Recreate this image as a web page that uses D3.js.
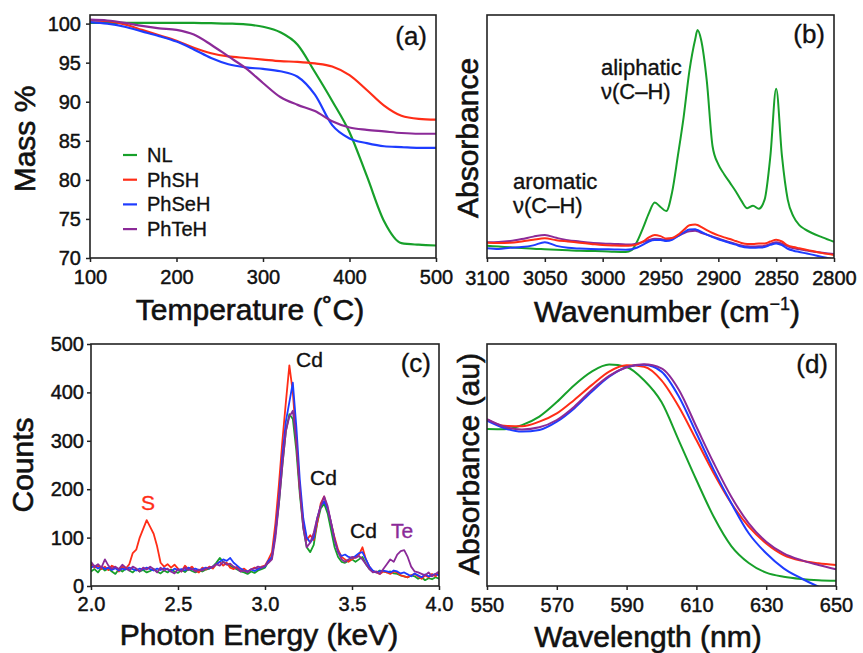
<!DOCTYPE html>
<html>
<head>
<meta charset="utf-8">
<script src="https://cdn.jsdelivr.net/npm/d3@7"></script>
<style>
body { margin: 0; background: #fff; }
svg text { font-family: "Liberation Sans", Arial, sans-serif; }
</style>
</head>
<body>
<script>
// sample names + colours
var samples = ["NL", "PhSH", "PhSeH", "PhTeH"];
var colours = ["#17a02a", "#ff2d17", "#1e3cff", "#8b2a98"];

// (a) TGA, mass % vs temperature
var tgaTemp = [100,120,140,160,180,200,220,240,260,280,300,320,340,360,380,400,420,440,460,480,500];
var tgaNL    = [100.1,100.1,100.1,100.1,100.1,100.1,100.1,100.05,100.0,99.9,99.6,98.9,97.3,93.8,90.1,86.1,80.5,74.7,71.9,71.7,71.6];
var tgaPhSH  = [100.4,100.3,99.9,99.2,98.5,97.8,96.9,96.2,95.8,95.6,95.4,95.2,95.1,94.9,94.5,93.4,91.5,89.5,88.2,87.8,87.7];
var tgaPhSeH = [100.2,100.0,99.6,99.0,98.4,97.7,96.7,95.6,94.8,94.4,94.2,93.9,93.2,90.9,87.0,85.3,84.7,84.3,84.2,84.1,84.1];
var tgaPhTeH = [100.5,100.4,100.1,99.7,99.4,99.2,98.6,97.3,95.8,94.3,92.4,90.6,89.6,88.8,87.5,86.7,86.4,86.2,86.0,85.9,85.9];

// (b) IR absorbance (arbitrary units, 0-100 of panel height)
var irWave = [3100,3090,3080,3070,3060,3050,3040,3030,3020,3010,3000,2990,2980,
  2975,2970,2965,2960,2955,2950,2945,2940,2935,2930,2925,2920,2918,
  2915,2910,2905,2900,2895,2890,2885,2880,2875,2870,2865,2860,2855,2850,2845,2840,2835,2830,2825,2820,
  2810,2800];
var irNL = [5.0,4.7,4.4,4.1,3.8,3.6,3.4,3.2,3.0,2.9,2.8,2.6,2.5,
  3.2,7.0,12.5,18.5,22.8,21.0,19.3,27.0,42.0,58.0,77.0,90.0,93.8,
  90.0,73.0,46.0,38.5,34.5,31.0,27.5,23.5,20.5,21.5,20.3,24.0,42.0,69.7,42.0,24.0,17.0,13.5,11.8,10.5,
  8.5,6.7];
var irPhSH = [6.3,6.2,6.3,6.8,7.5,8.1,7.3,6.8,6.3,5.8,5.3,5.1,5.0,
  5.1,5.6,6.8,8.5,9.5,9.0,8.0,8.2,9.5,11.5,13.5,13.8,13.6,
  12.8,11.5,10.3,9.3,8.5,7.8,7.0,6.2,5.8,5.8,6.0,6.0,6.8,7.5,6.8,5.2,4.5,4.0,3.5,3.0,
  2.0,1.2];
var irPhSeH = [4.0,3.7,4.2,4.5,5.2,6.5,5.0,4.2,3.9,3.7,3.6,3.5,3.4,
  3.6,4.3,5.5,6.8,7.4,7.4,7.0,7.5,9.0,10.5,11.7,11.8,11.5,
  10.8,9.6,8.6,7.7,7.0,6.2,5.5,4.7,4.3,4.2,4.3,4.5,5.4,6.0,5.3,3.8,3.0,2.5,2.0,1.5,
  0.4,-0.6];
var irPhTeH = [6.5,6.6,7.0,7.8,8.8,9.5,8.3,7.3,6.8,6.3,6.0,5.8,5.6,
  5.6,6.0,6.6,7.4,7.9,7.8,7.5,8.0,9.0,10.2,11.0,11.2,11.0,
  10.4,9.6,8.8,8.0,7.2,6.5,5.8,5.2,4.8,4.7,4.8,5.0,5.8,6.5,5.9,4.8,4.0,3.6,3.2,2.8,
  2.2,1.6];

// (c) EDS counts, 2.00 to 4.00 keV every 0.02 keV
var edsStart = 2.0, edsStep = 0.02;
var edsNL = [30,35,28,38,32,36,30,25,34,30, 36,32,28,35,30,33,28,31,35,30,
  26,32,28,34,30,27,33,29,35,31, 28,32,30,34,36,40,48,58,50,45,
  42,38,34,30,28,25,30,27,32,35, 38,50,60,110,170,250,320,355,345,280,
  190,120,80,70,85,130,160,170,150,115, 80,60,50,48,52,55,50,55,60,45,
  35,30,28,32,30,28,30,26,25,22, 20,18,22,20,15,18,12,16,14,18, 15];
var edsPhSH = [45,38,42,35,40,33,42,38,30,40, 36,45,68,75,100,118,136,122,108,82,
  48,40,45,38,44,36,30,42,35,40, 32,28,38,34,40,36,45,50,42,48,
  38,35,40,32,36,30,34,38,35,40, 42,55,70,130,210,300,380,456,400,300,
  200,130,95,105,95,130,170,185,160,130, 100,75,60,55,50,55,60,65,80,55,
  40,30,28,25,30,28,25,30,28,22, 20,18,22,25,20,15,22,18,25,20, 28];
var edsPhSeH = [38,42,36,40,35,38,33,37,32,36, 34,38,35,32,36,34,38,35,32,36,
  33,37,34,30,36,33,35,32,38,34, 36,33,35,38,36,40,45,50,55,52,
  58,48,42,36,32,30,34,31,35,38, 40,52,60,110,180,270,340,380,420,330,
  220,140,100,90,100,140,165,175,160,130, 95,70,62,65,60,58,62,68,70,55,
  40,32,28,30,32,30,28,32,30,26, 28,24,20,26,22,18,24,20,22,25, 22];
var edsPhTeH = [50,40,45,38,55,42,36,40,35,44, 38,32,40,36,30,38,34,40,35,28,
  38,32,36,30,26,35,30,38,33,36, 30,34,32,36,38,40,45,42,50,44,
  46,40,36,30,32,28,35,36,40,38, 42,48,55,100,170,250,320,350,362,300,
  200,120,80,90,110,140,165,185,165,130, 95,70,55,50,55,60,58,62,55,45,
  35,28,30,25,35,45,55,50,65,72, 74,60,40,30,28,25,22,28,20,25, 30];

// (d) UV-vis absorbance (au, 0-100 of panel height)
var uvWave = [550,555,560,565,570,575,580,585,590,595,600,605,610,615,620,625,630,635,640,645,650];
var uvNL    = [64.9,64.8,66.5,70.0,76.0,83.0,88.6,91.5,90.5,85.0,76.0,60.0,43.8,28.5,16.5,9.5,5.5,3.8,2.9,2.4,2.2];
var uvPhSH  = [68.9,66.2,66.0,67.9,71.3,76.9,83.0,88.6,91.2,90.6,85.0,74.0,60.3,46.5,34.2,24.5,17.6,12.8,10.5,9.4,8.7];
var uvPhSeH = [68.3,65.2,63.8,64.5,67.9,73.4,80.3,86.5,90.4,91.4,88.6,78.2,63.1,47.9,34.2,21.8,13.5,7.3,3.2,-0.3,-3.0];
var uvPhTeH = [68.9,65.8,64.7,65.6,68.6,74.1,81.0,86.8,90.4,91.6,89.9,81.0,65.8,50.7,36.9,25.9,18.3,13.5,10.7,8.7,6.9];

var tgaTicksX = [100,200,300,400,500], tgaTicksY = [70,75,80,85,90,95,100];
var irTicks = [3100,3050,3000,2950,2900,2850,2800];
var edsTicksX = [2.0,2.5,3.0,3.5,4.0], edsTicksY = [0,100,200,300,400,500];
var uvTicks = [550,570,590,610,630,650];

var svg = d3.select("body").append("svg")
  .attr("width", 863)
  .attr("height", 653);

function makePanel(id, box, xDom, yDom, yTop) {
  var x = d3.scaleLinear().domain(xDom).range([box.left, box.right]);
  var y = d3.scaleLinear().domain(yDom).range([box.bottom, yTop == null ? box.top : yTop]);
  svg.append("clipPath").attr("id", "clip-" + id)
    .append("rect")
    .attr("x", box.left).attr("y", box.top)
    .attr("width", box.right - box.left).attr("height", box.bottom - box.top);
  var plot = svg.append("g").attr("clip-path", "url(#clip-" + id + ")");
  return {x: x, y: y, box: box, plot: plot};
}

function drawLines(p, xs, series, order, curve, width) {
  order.forEach(i => {
    var line = d3.line()
      .x((d, j) => p.x(xs[j]))
      .y(d => p.y(d))
      .curve(curve);
    p.plot.append("path")
      .datum(series[i])
      .attr("fill", "none")
      .attr("stroke", colours[i])
      .attr("stroke-width", width)
      .attr("stroke-linejoin", "round")
      .attr("d", line);
  });
}

function styleAxis(g) {
  g.select(".domain").remove();
  g.selectAll(".tick line").attr("stroke", "#222").attr("stroke-width", 1.5);
  g.selectAll(".tick text")
    .attr("font-size", 20)
    .attr("font-family", "Liberation Sans, Arial, sans-serif")
    .attr("fill", "#111")
    .attr("stroke", "#111")
    .attr("stroke-width", 0.45);
}

function bottomAxis(p, ticks, fmt, pad) {
  svg.append("g")
    .attr("transform", `translate(0,${p.box.bottom})`)
    .call(d3.axisBottom(p.x).tickValues(ticks).tickFormat(fmt).tickSize(4).tickPadding(pad).tickSizeOuter(0))
    .call(styleAxis);
}

function leftAxis(p, ticks, pad) {
  svg.append("g")
    .attr("transform", `translate(${p.box.left},0)`)
    .call(d3.axisLeft(p.y).tickValues(ticks).tickFormat(d3.format("d")).tickSize(4).tickPadding(pad).tickSizeOuter(0))
    .call(styleAxis);
}

function frame(p) {
  svg.append("rect")
    .attr("x", p.box.left).attr("y", p.box.top)
    .attr("width", p.box.right - p.box.left)
    .attr("height", p.box.bottom - p.box.top)
    .attr("fill", "none")
    .attr("stroke", "#222")
    .attr("stroke-width", 1.6);
}

function label(x, y, txt, size, colour, anchor) {
  colour = colour || "#111";
  return svg.append("text")
    .attr("x", x).attr("y", y)
    .attr("font-size", size)
    .attr("fill", colour)
    .attr("stroke", colour)
    .attr("stroke-width", size >= 28 ? 0.6 : 0.35)
    .style("text-anchor", anchor || "start")
    .text(txt);
}

function yTitle(x, y, txt) {
  svg.append("text")
    .attr("transform", `translate(${x},${y}) rotate(-90)`)
    .attr("font-size", 30)
    .attr("fill", "#111")
    .attr("stroke", "#111")
    .attr("stroke-width", 0.6)
    .style("text-anchor", "middle")
    .text(txt);
}

// ---- (a)
var pa = makePanel("a", {left: 90, right: 436, top: 15, bottom: 258}, [100, 500], [70, 100], 23.6);
drawLines(pa, tgaTemp, [tgaNL, tgaPhSH, tgaPhSeH, tgaPhTeH], [0, 1, 2, 3], d3.curveMonotoneX, 2.2);
bottomAxis(pa, tgaTicksX, d3.format("d"), 8);
leftAxis(pa, tgaTicksY, 5);
frame(pa);
label(427, 45, "(a)", 26, "#111", "end");
yTitle(35, 139, "Mass %");
label(250, 320, "Temperature (\u02daC)", 30, "#111", "middle");

samples.forEach((s, i) => {
  var yy = 155 + i * 24.7;
  svg.append("line")
    .attr("x1", 123).attr("x2", 137)
    .attr("y1", yy).attr("y2", yy)
    .attr("stroke", colours[i])
    .attr("stroke-width", 2.2);
  label(147, yy + 7, s, 20);
});

// ---- (b)
var pb = makePanel("b", {left: 487, right: 834, top: 15, bottom: 258}, [3100, 2800], [0, 100]);
drawLines(pb, irWave, [irNL, irPhSH, irPhSeH, irPhTeH], [0, 3, 2, 1], d3.curveMonotoneX, 2);
bottomAxis(pb, irTicks, d3.format("d"), 9);
frame(pb);
label(825, 43, "(b)", 26, "#111", "end");
yTitle(478, 138, "Absorbance");
var wn = label(667, 322, "Wavenumber (cm", 30, "#111", "middle");
wn.append("tspan").attr("font-size", 18).attr("stroke-width", 0.35).attr("dy", -12).text("\u22121");
wn.append("tspan").attr("dy", 12).text(")");
label(601, 75, "aliphatic", 22);
label(601, 99, "\u03bd(C\u2013H)", 22);
label(513, 189, "aromatic", 22);
label(513, 213, "\u03bd(C\u2013H)", 22);

// ---- (c)
var edsE = edsNL.map((d, i) => edsStart + i * edsStep);
var pc = makePanel("c", {left: 91, right: 439, top: 344, bottom: 586}, [2, 4], [0, 500]);
drawLines(pc, edsE, [edsNL, edsPhSH, edsPhSeH, edsPhTeH], [0, 1, 2, 3], d3.curveLinear, 1.8);
bottomAxis(pc, edsTicksX, d3.format(".1f"), 7);
leftAxis(pc, edsTicksY, 3);
frame(pc);
label(431, 372, "(c)", 26, "#111", "end");
yTitle(33, 465, "Counts");
label(259, 645, "Photon Energy (keV)", 30, "#111", "middle");
label(148, 510, "S", 21, colours[1], "middle");
label(296, 367, "Cd", 21);
label(310, 485, "Cd", 21);
label(350, 538, "Cd", 21);
label(391, 538, "Te", 21, colours[3]);

// ---- (d)
var pd = makePanel("d", {left: 487, right: 836, top: 344, bottom: 586}, [550, 650], [0, 100]);
drawLines(pd, uvWave, [uvNL, uvPhSH, uvPhSeH, uvPhTeH], [0, 1, 2, 3], d3.curveMonotoneX, 2);
bottomAxis(pd, uvTicks, d3.format("d"), 8);
frame(pd);
label(828, 373, "(d)", 26, "#111", "end");
yTitle(479, 464, "Absorbance (au)");
label(648, 647, "Wavelength (nm)", 30, "#111", "middle");
</script>
</body>
</html>
